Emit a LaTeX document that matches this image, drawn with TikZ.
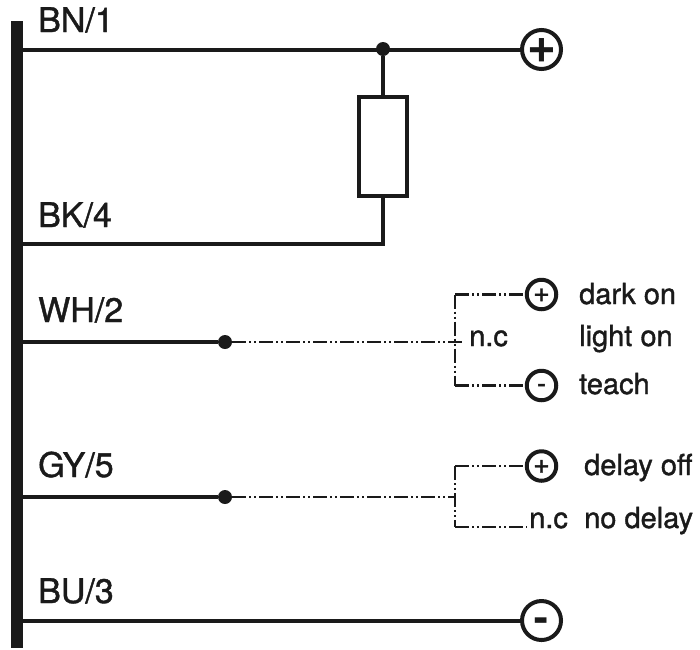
\documentclass[tikz,border=0pt]{standalone}
\usepackage{fontspec}
\setmainfont[FakeBold=1.2]{TeX Gyre Heros}
\newfontfamily\glyphfont{Liberation Sans}
\newfontfamily\smallglyphfont[FakeBold=1.5]{Liberation Sans}
\definecolor{ink}{HTML}{1A1A1A}
\newcommand{\glyphat}[2]{\smash{\raisebox{#1}{#2}}}
\tikzset{
  wire/.style={draw=ink,line width=4pt},
  thin wire/.style={draw=ink,line width=2.4pt,dash pattern=on 14pt off 3pt on 2pt off 3pt on 2pt off 3pt},
  junction/.style={circle,fill=ink,inner sep=0pt,minimum size=14pt},
  big terminal/.style={circle,draw=ink,fill=white,line width=4pt,inner sep=0pt,minimum size=39pt,text=ink,font=\glyphfont\bfseries\fontsize{46}{46}\selectfont},
  small terminal/.style={circle,draw=ink,fill=white,line width=4pt,inner sep=0pt,minimum size=29.5pt,text=ink,font=\smallglyphfont\fontsize{26}{26}\selectfont},
  wire label/.style={anchor=base west,inner sep=0pt,text=ink,font=\fontsize{34}{36}\selectfont},
  note label/.style={anchor=base west,inner sep=0pt,text=ink,font=\fontsize{29}{32}\selectfont},
  load/.style={rectangle,draw=ink,fill=white,line width=4pt,inner sep=0pt,minimum width=48pt,minimum height=99pt}
}
\begin{document}
\begin{tikzpicture}[x=1pt,y=-1pt]
\useasboundingbox (0,0) rectangle (700,649);
% bus bar
\node[rectangle,fill=ink,inner sep=0pt,minimum width=11.5pt,minimum height=627pt] (bar) at (16.75,334.5) {};
% terminals
\node[big terminal] (pos) at (541.5,49.5) {\glyphat{-16pt}{+}};
\node[big terminal] (neg) at (541.5,620.5) {\glyphat{-12pt}{-}};
\node[small terminal] (wp) at (541.5,294.5) {\glyphat{-9pt}{+}};
\node[small terminal] (wm) at (541.5,385.5) {\glyphat{-6.5pt}{-}};
\node[small terminal] (gp) at (541.5,466) {\glyphat{-9pt}{+}};
% junctions and load
\node[junction] (j1) at (383,49) {};
\node[load] (r) at (383,146.5) {};
\node[junction] (dw) at (225,342) {};
\node[junction] (dg) at (225,497) {};
% routing points
\coordinate (b1) at (383,244);
\coordinate (wt) at (455,294.5);
\coordinate (wb) at (455,385.5);
\coordinate (we) at (463,342);
\coordinate (gt) at (455,466);
\coordinate (gb) at (455,527);
\coordinate (ge) at (455,497);
\coordinate (ne) at (527,527);
% solid wires
\draw[wire] (bar.east |- pos) -- (pos.west);
\draw[wire] (j1) -- (r.north);
\draw[wire] (r.south) -- (b1) -- (bar.east |- b1);
\draw[wire] (bar.east |- dw) -- (dw);
\draw[wire] (bar.east |- dg) -- (dg);
\draw[wire] (bar.east |- neg) -- (neg.west);
% dash-dot wires
\draw[thin wire] (dw.east) -- (we);
\draw[thin wire] (wt) -- (wp.west);
\draw[thin wire] (wt) -- (wb);
\draw[thin wire] (wb) -- (wm.west);
\draw[thin wire] (dg.east) -- (ge);
\draw[thin wire] (gt) -- (gp.west);
\draw[thin wire] (gt) -- (gb);
\draw[thin wire] (gb) -- (ne);
% labels
\node[wire label] (l1) at (38,32) {BN/1};
\node[wire label] (l2) at (38,227) {BK/4};
\node[wire label] (l3) at (38,322) {WH/2};
\node[wire label] (l4) at (38,477) {GY/5};
\node[wire label] (l5) at (38,603) {BU/3};
\node[note label] (n1) at (579,304) {dark on};
\node[note label] (n2) at (579,346) {light on};
\node[note label] (n3) at (579,394) {teach};
\node[note label] (n4) at (469,346) {n.c};
\node[note label] (n5) at (584,475) {delay off};
\node[note label] (n6) at (529,528) {n.c};
\node[note label] (n7) at (584,528) {no delay};
\end{tikzpicture}
\end{document}
